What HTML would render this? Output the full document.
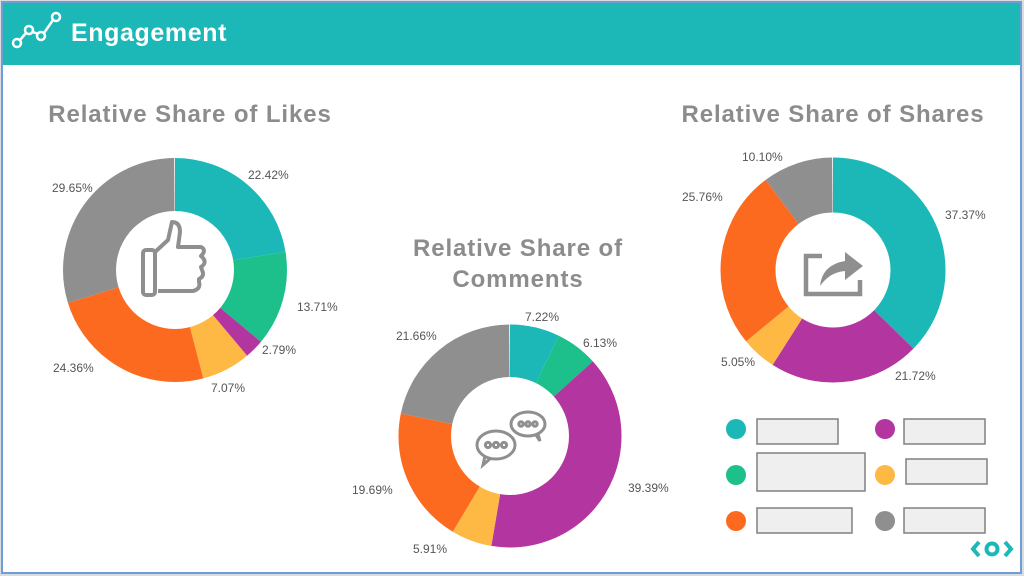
<!DOCTYPE html>
<html><head><meta charset="utf-8"><style>
html,body{margin:0;padding:0;background:#fff;}
body{width:1024px;height:576px;overflow:hidden;position:relative;font-family:"Liberation Sans",sans-serif;}
</style></head><body>
<svg width="1024" height="576" viewBox="0 0 1024 576" xmlns="http://www.w3.org/2000/svg" font-family="Liberation Sans, sans-serif">
<rect x="0" y="0" width="1024" height="576" fill="#d9dde3"/>
<rect x="2" y="2" width="1019" height="571" fill="#fff" stroke="#6f9fd0" stroke-width="2"/>
<rect x="3" y="3" width="1017" height="62" fill="#1cb8b8"/>
<g stroke="#fff" stroke-width="2.5" fill="none">
<circle cx="17" cy="43" r="4"/><circle cx="29" cy="30" r="4"/><circle cx="41" cy="36" r="4"/><circle cx="56" cy="17" r="4"/>
<line x1="20" y1="40" x2="26" y2="33"/><line x1="33" y1="32" x2="38" y2="34"/><line x1="44" y1="33" x2="53" y2="20"/>
</g>
<text x="71" y="41" fill="#fff" font-size="25" font-weight="bold" letter-spacing="0.6">Engagement</text>

<g font-size="24" font-weight="bold" fill="#8c8c8c" text-anchor="middle" letter-spacing="0.9">
<text x="190" y="122">Relative Share of Likes</text>
<text x="833" y="122">Relative Share of Shares</text>
<text x="518" y="256">Relative Share of</text>
<text x="518" y="287">Comments</text>
</g>

<!-- Likes -->
<g transform="translate(175,270) rotate(-90)" fill="none" stroke-width="54">
<circle r="85" pathLength="100" stroke="#1cb8b8" stroke-dasharray="22.42 100" stroke-dashoffset="0"/>
<circle r="85" pathLength="100" stroke="#1dbf8a" stroke-dasharray="13.71 100" stroke-dashoffset="-22.42"/>
<circle r="85" pathLength="100" stroke="#b3359f" stroke-dasharray="2.79 100" stroke-dashoffset="-36.13"/>
<circle r="85" pathLength="100" stroke="#fdb944" stroke-dasharray="7.07 100" stroke-dashoffset="-38.92"/>
<circle r="85" pathLength="100" stroke="#fc6a20" stroke-dasharray="24.36 100" stroke-dashoffset="-45.99"/>
<circle r="85" pathLength="100" stroke="#8f8f8f" stroke-dasharray="29.65 100" stroke-dashoffset="-70.35"/>
</g>
<circle cx="175" cy="270" r="59" fill="#fff"/>
<g stroke="#8f8f8f" stroke-width="4" fill="none" stroke-linejoin="round">
<rect x="143" y="250" width="12" height="45" rx="3"/>
<path d="M155 252 L168 240 L172 222 Q180 222 180 232 L178 247 L201 247 Q207 250 201 256 L203 258 Q207 263 201 267 L202 270 Q205 276 199 279 L199 282 Q201 289 193 291 L158 291"/>
</g>

<!-- Comments -->
<g transform="translate(510,436) rotate(-90)" fill="none" stroke-width="53">
<circle r="85" pathLength="100" stroke="#1cb8b8" stroke-dasharray="7.22 100" stroke-dashoffset="0"/>
<circle r="85" pathLength="100" stroke="#1dbf8a" stroke-dasharray="6.13 100" stroke-dashoffset="-7.22"/>
<circle r="85" pathLength="100" stroke="#b3359f" stroke-dasharray="39.39 100" stroke-dashoffset="-13.35"/>
<circle r="85" pathLength="100" stroke="#fdb944" stroke-dasharray="5.91 100" stroke-dashoffset="-52.74"/>
<circle r="85" pathLength="100" stroke="#fc6a20" stroke-dasharray="19.69 100" stroke-dashoffset="-58.65"/>
<circle r="85" pathLength="100" stroke="#8f8f8f" stroke-dasharray="21.66 100" stroke-dashoffset="-78.34"/>
</g>
<circle cx="510" cy="436" r="59" fill="#fff"/>
<g stroke="#8f8f8f" stroke-width="3" fill="none">
<ellipse cx="528" cy="424" rx="17" ry="12"/><path d="M536 435 L540 441 L538 434"/>
<ellipse cx="496" cy="445" rx="19" ry="14"/><path d="M485 456 L483 465 L491 458"/>
<circle cx="521" cy="424" r="2.2"/><circle cx="528" cy="424" r="2.2"/><circle cx="535" cy="424" r="2.2"/>
<circle cx="488" cy="445" r="2.6"/><circle cx="496" cy="445" r="2.6"/><circle cx="504" cy="445" r="2.6"/>
</g>

<!-- Shares -->
<g transform="translate(833,270) rotate(-90)" fill="none" stroke-width="55">
<circle r="85" pathLength="100" stroke="#1cb8b8" stroke-dasharray="37.37 100" stroke-dashoffset="0"/>
<circle r="85" pathLength="100" stroke="#b3359f" stroke-dasharray="21.72 100" stroke-dashoffset="-37.37"/>
<circle r="85" pathLength="100" stroke="#fdb944" stroke-dasharray="5.05 100" stroke-dashoffset="-59.09"/>
<circle r="85" pathLength="100" stroke="#fc6a20" stroke-dasharray="25.76 100" stroke-dashoffset="-64.14"/>
<circle r="85" pathLength="100" stroke="#8f8f8f" stroke-dasharray="10.10 100" stroke-dashoffset="-89.9"/>
</g>
<circle cx="833" cy="270" r="57" fill="#fff"/>
<path d="M822 256 L806 256 L806 294 L860 294 L860 280" stroke="#8f8f8f" stroke-width="4.5" fill="none"/>
<path d="M820 286 Q822 265 845 261 L845 252 L863 266 L845 280 L845 271 Q830 272 820 286 Z" fill="#8f8f8f"/>

<g font-size="12" fill="#555">
<text x="248" y="179">22.42%</text>
<text x="297" y="311">13.71%</text>
<text x="262" y="354">2.79%</text>
<text x="211" y="392">7.07%</text>
<text x="53" y="372">24.36%</text>
<text x="52" y="192">29.65%</text>
<text x="525" y="321">7.22%</text>
<text x="583" y="347">6.13%</text>
<text x="628" y="492">39.39%</text>
<text x="413" y="553">5.91%</text>
<text x="352" y="494">19.69%</text>
<text x="396" y="340">21.66%</text>
<text x="742" y="161">10.10%</text>
<text x="682" y="201">25.76%</text>
<text x="945" y="219">37.37%</text>
<text x="895" y="380">21.72%</text>
<text x="721" y="366">5.05%</text>
</g>

<g stroke="#808080" stroke-width="1.5" fill="#efefef">
<rect x="757" y="419" width="81" height="25"/>
<rect x="904" y="419" width="81" height="25"/>
<rect x="757" y="453" width="108" height="38"/>
<rect x="906" y="459" width="81" height="25"/>
<rect x="757" y="508" width="95" height="25"/>
<rect x="904" y="508" width="81" height="25"/>
</g>
<circle cx="736" cy="429" r="10" fill="#1cb8b8"/>
<circle cx="885" cy="429" r="10" fill="#b3359f"/>
<circle cx="736" cy="475" r="10" fill="#1dbf8a"/>
<circle cx="885" cy="475" r="10" fill="#fdb944"/>
<circle cx="736" cy="521" r="10" fill="#fc6a20"/>
<circle cx="885" cy="521" r="10" fill="#8f8f8f"/>

<g fill="none" stroke="#1cb8b8" stroke-width="4">
<path d="M979 542 L973 549 L979 556"/><path d="M1005 542 L1011 549 L1005 556"/>
<circle cx="992" cy="549" r="5.5"/>
</g>
</svg>
</body></html>
